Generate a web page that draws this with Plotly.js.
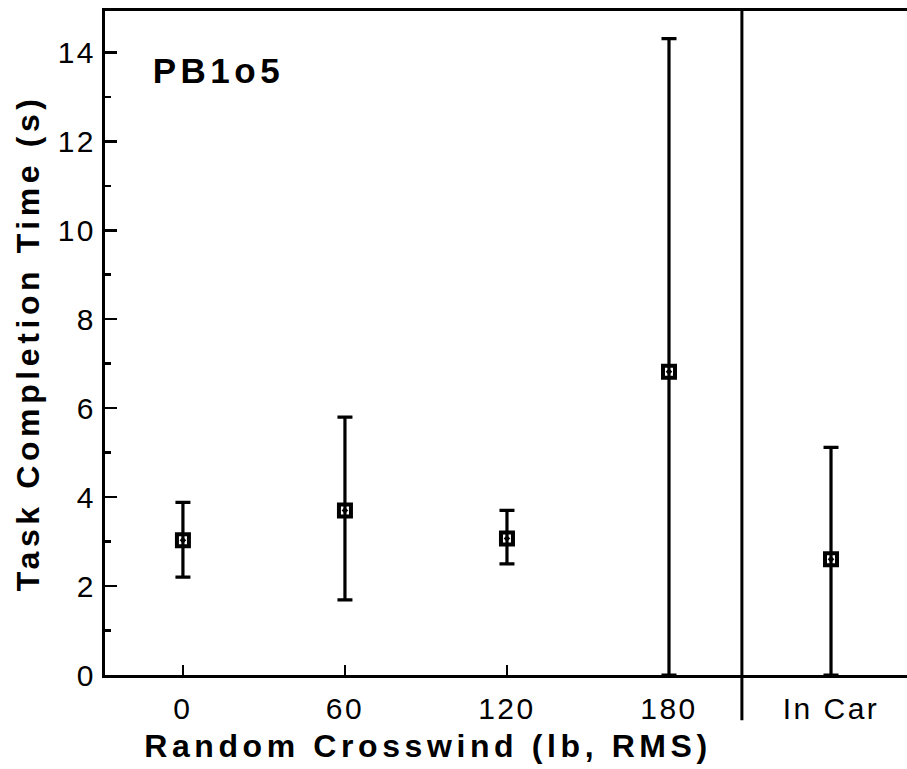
<!DOCTYPE html>
<html>
<head>
<meta charset="utf-8">
<script src="https://cdn.plot.ly/plotly-3.0.1.min.js"></script>
<style>
  html, body { margin: 0; padding: 0; background: #fff; }
  #chart { width: 907px; height: 769px; }
  .annotation-text.sp-title { letter-spacing: 4.6px; }
  .annotation-text.sp-panel { letter-spacing: 4.5px; }
  .xtick text, .ytick text { letter-spacing: 2.5px; }
</style>
</head>
<body>
<div id="chart"></div>
<script>
// Data
const categories = ["0", "60", "120", "180", "In Car"];
const positions = [0, 1, 2, 3, 4];
const meanTime = [3.03, 3.70, 3.07, 6.82, 2.60];
const upperTime = [3.88, 5.80, 3.70, 14.31, 5.12];
const lowerTime = [2.20, 1.69, 2.50, 0.00, 0.00];
const panelLabel = "PB1o5";
const xTitle = "Random Crosswind (lb, RMS)";
const yTitle = "Task Completion Time (s)";
const yTickVals = [0, 2, 4, 6, 8, 10, 12, 14];
const dividerAt = 3.45;

const plus = upperTime.map((u, i) => u - meanTime[i]);
const minus = meanTime.map((m, i) => m - lowerTime[i]);

const font = "Liberation Sans, Arial, Helvetica, sans-serif";

const trace = {
  x: positions,
  y: meanTime,
  type: "scatter",
  mode: "markers",
  marker: {
    symbol: "square-open-dot",
    size: 12,
    color: "#000",
    line: { color: "#000", width: 4 }
  },
  error_y: {
    type: "data",
    symmetric: false,
    array: plus,
    arrayminus: minus,
    color: "#000",
    thickness: 3.2,
    width: 7.5
  },
  cliponaxis: false,
  showlegend: false,
  hoverinfo: "skip"
};

const layout = {
  width: 907,
  height: 769,
  margin: { l: 105, r: 0, t: 11, b: 94 },
  paper_bgcolor: "#fff",
  plot_bgcolor: "#fff",
  font: { family: font, color: "#000", size: 30 },
  xaxis: {
    range: [-0.481, 4.469],
    tickvals: positions,
    ticktext: categories,
    ticks: "inside",
    ticklen: 10,
    tickwidth: 2.5,
    tickcolor: "#000",
    showline: true,
    linewidth: 3,
    linecolor: "#000",
    mirror: true,
    showgrid: false,
    zeroline: false,
    ticklabelstandoff: 5,
    tickfont: { family: font, size: 30, color: "#000" }
  },
  yaxis: {
    range: [0, 14.93],
    tickvals: yTickVals,
    ticks: "inside",
    ticklen: 12,
    tickwidth: 2.5,
    tickcolor: "#000",
    minor: { dtick: 1, tick0: 0, ticks: "inside", ticklen: 6, tickwidth: 2.5, tickcolor: "#000", showgrid: false },
    showline: true,
    linewidth: 3,
    linecolor: "#000",
    mirror: false,
    showgrid: false,
    zeroline: false,
    ticklabelstandoff: 0,
    tickfont: { family: font, size: 30, color: "#000" }
  },
  shapes: [
    {
      type: "line",
      xref: "x", yref: "paper",
      x0: dividerAt, x1: dividerAt,
      y0: -0.068, y1: 1,
      line: { color: "#000", width: 3 }
    }
  ],
  annotations: [
    {
      text: panelLabel,
      xref: "paper", yref: "paper",
      x: 0.1415, y: 0.910,
      xanchor: "center", yanchor: "middle",
      showarrow: false,
      font: { family: font, size: 35, weight: "bold", color: "#000" }
    },
    {
      text: xTitle,
      xref: "paper", yref: "paper",
      x: 0.4027, y: -0.107,
      xanchor: "center", yanchor: "middle",
      showarrow: false,
      font: { family: font, size: 32, weight: "bold", color: "#000" }
    },
    {
      text: yTitle,
      xref: "paper", yref: "paper",
      x: -0.096, y: 0.50,
      xanchor: "center", yanchor: "middle",
      textangle: -90,
      showarrow: false,
      font: { family: font, size: 32, weight: "bold", color: "#000" }
    }
  ]
};

Plotly.newPlot("chart", [trace], layout, { staticPlot: true, displayModeBar: false }).then(function (gd) {
  const texts = gd.querySelectorAll(".annotation-text");
  texts.forEach(function (t, i) { t.classList.add(i === 0 ? "sp-panel" : "sp-title"); });
});
</script>
</body>
</html>
